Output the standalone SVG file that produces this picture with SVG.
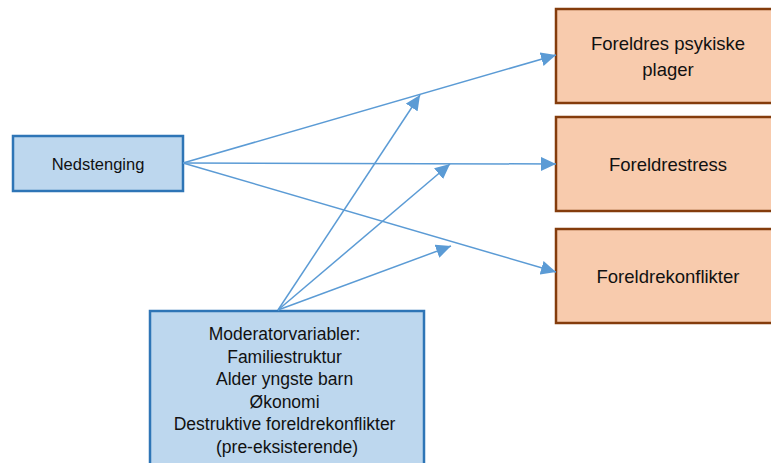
<svg xmlns="http://www.w3.org/2000/svg" width="771" height="463" viewBox="0 0 771 463">
<style>
.blue{fill:#BDD7EE;stroke:#2E75B6;stroke-width:2.5}
.orange{fill:#F8CBAD;stroke:#843C0C;stroke-width:2.5}
.t{font-family:"Liberation Sans",Arial,sans-serif;fill:#111;text-anchor:middle}
.conn line{stroke:#5B9BD5;stroke-width:1.5;marker-end:url(#ah)}
</style>
<defs>
<marker id="ah" markerUnits="userSpaceOnUse" markerWidth="16" markerHeight="14" refX="15" refY="7" orient="auto">
<path d="M0,0 L15,7 L0,14 Z" fill="#5B9BD5"/>
</marker>
</defs>
<rect width="771" height="463" fill="#fff"/>
<g id="nedstenging">
<rect class="blue" x="13" y="136" width="170" height="55"/>
<text class="t" x="98" y="170" font-size="16.5">Nedstenging</text>
</g>
<g id="psykiske">
<rect class="orange" x="556" y="9" width="230" height="94"/>
<text class="t" x="668" y="50" font-size="18.5">Foreldres psykiske</text>
<text class="t" x="668" y="76" font-size="18.5">plager</text>
</g>
<g id="stress">
<rect class="orange" x="556" y="117" width="230" height="94"/>
<text class="t" x="668" y="171" font-size="18.5">Foreldrestress</text>
</g>
<g id="konflikter">
<rect class="orange" x="556" y="229" width="230" height="94"/>
<text class="t" x="668" y="283" font-size="18.5">Foreldrekonflikter</text>
</g>
<g id="moderator">
<rect class="blue" x="150" y="311" width="274" height="170"/>
<text class="t" font-size="17.5">
<tspan x="287" y="340">Moderatorvariabler:</tspan>
<tspan x="287" y="362.5">Familiestruktur</tspan>
<tspan x="287" y="385">Alder yngste barn</tspan>
<tspan x="287" y="407.5">Økonomi</tspan>
<tspan x="287" y="430">Destruktive foreldrekonflikter</tspan>
<tspan x="287" y="452.5">(pre-eksisterende)</tspan>
</text>
</g>
<g class="conn" id="connectors">
<line x1="183" y1="163" x2="556" y2="55"/>
<line x1="183" y1="163" x2="556" y2="164"/>
<line x1="183" y1="163" x2="556" y2="272"/>
<line x1="278" y1="310" x2="420" y2="95"/>
<line x1="278" y1="310" x2="450" y2="164"/>
<line x1="278" y1="310" x2="451" y2="246"/>
</g>
</svg>
